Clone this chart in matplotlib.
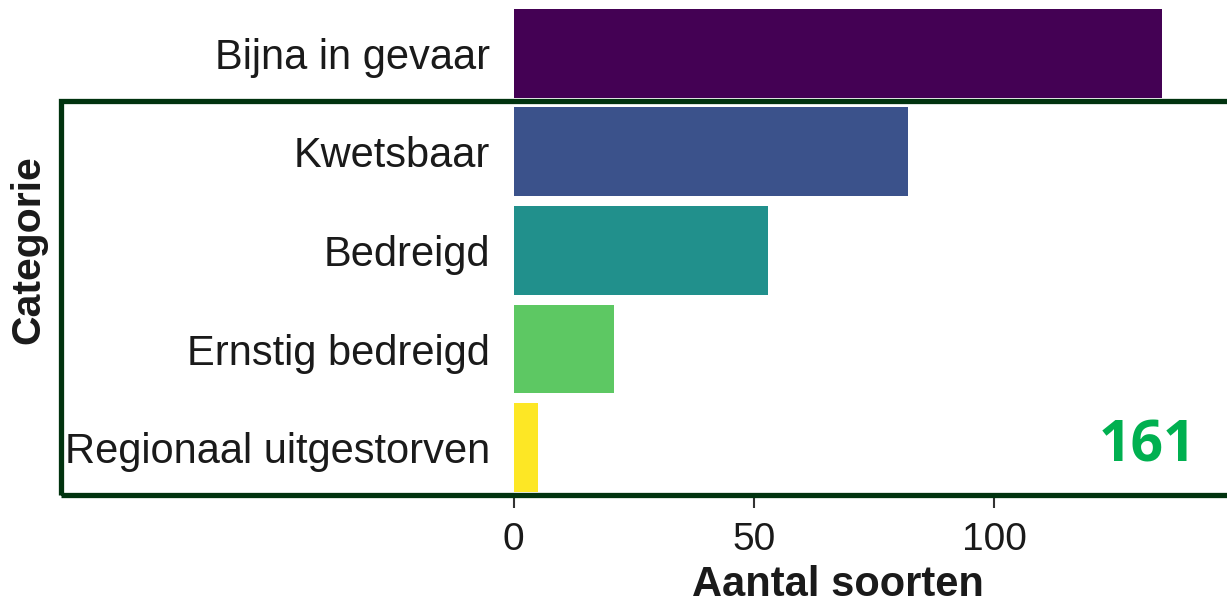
import matplotlib
matplotlib.use('Agg')
import matplotlib.pyplot as plt
from matplotlib.patches import Rectangle

plt.rcParams['font.family'] = ['Liberation Sans', 'DejaVu Sans']

categories = ['Regionaal uitgestorven', 'Ernstig bedreigd', 'Bedreigd', 'Kwetsbaar', 'Bijna in gevaar']
aantal = [5, 21, 53, 82, 135]
kleuren = ['#FDE725', '#5DC863', '#21908C', '#3B528B', '#440154']
x_ticks = [0, 50, 100]
totaal_label = '161'

W, H = 1227, 607
fig = plt.figure(figsize=(W / 100, H / 100), dpi=100)

# axes placed in pixel terms
left_px, right_px = 503.9, 1195.8
bot_px, top_px = 497, -6
ax = fig.add_axes([left_px / W, 1 - bot_px / H, (right_px - left_px) / W, (bot_px - top_px) / H])

ypos = list(range(len(categories)))
ax.barh(ypos, aantal, height=0.9, color=kleuren)
ax.set_xlim(-2, 142)
ax.set_ylim(-0.5, 4.6)
ax.set_yticks(ypos)
ax.set_yticklabels(categories, fontsize=30, color='#1a1a1a')
ax.set_xticks(x_ticks)
ax.set_xticklabels([str(t) for t in x_ticks], fontsize=28, color='#1a1a1a')
ax.tick_params(axis='y', length=0, pad=10)
ax.tick_params(axis='x', length=8, width=1.5, color='#333333', pad=10)
for s in ax.spines.values():
    s.set_visible(False)

fig.text(837.5 / W, 1 - 585 / H, 'Aantal soorten', fontsize=30,
         fontweight='bold', ha='center', va='center', color='#1a1a1a')
fig.text(28 / W, 1 - 250 / H, 'Categorie', fontsize=29.5, fontweight='bold',
         rotation=90, ha='center', va='center', color='#1a1a1a')

# dark green frame drawn over the chart
rect = Rectangle((61 / W, 1 - 494.5 / H), (1240 - 61) / W, (494.5 - 100.5) / H,
                 transform=fig.transFigure, fill=False, edgecolor='#01330f',
                 linewidth=3.8, clip_on=False)
fig.patches.append(rect)

fig.text(1147 / W, 1 - 446 / H, totaal_label, fontsize=41, fontweight='bold',
         color='#00B050', ha='center', va='center', family=['Open Sans', 'DejaVu Sans'])

fig.savefig('out.png', dpi=100)
